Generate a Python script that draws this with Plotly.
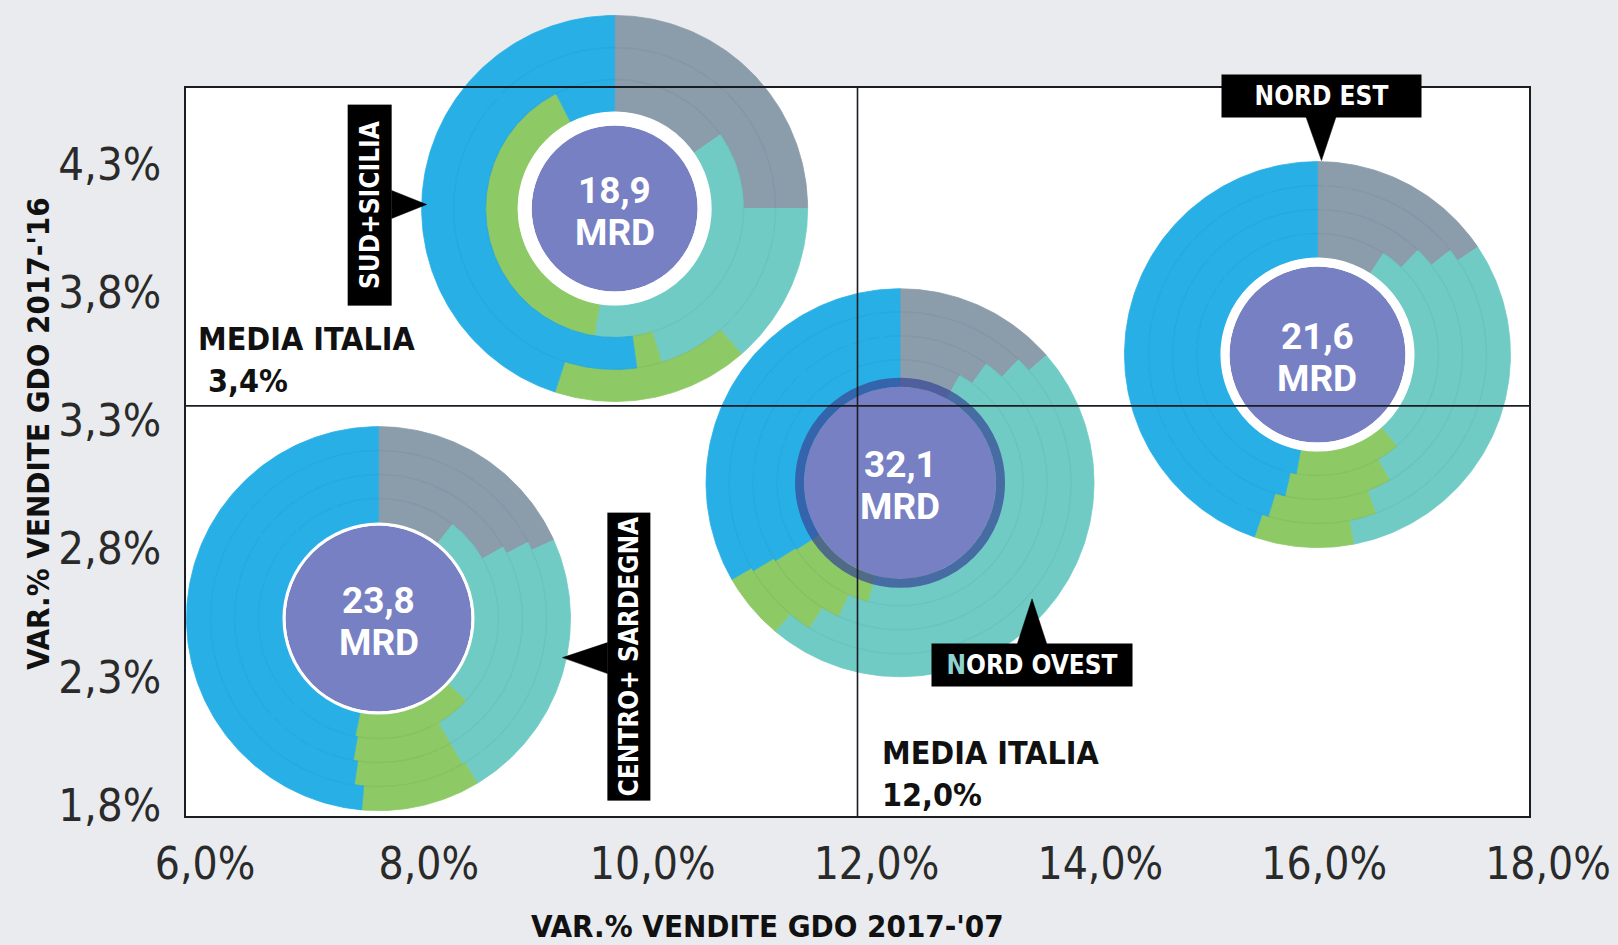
import numpy as np
import plotly.graph_objects as go

# ---------------------------------------------------------------- data
X_TICKS = [6, 8, 10, 12, 14, 16, 18]
Y_TICKS = [1.8, 2.3, 2.8, 3.3, 3.8, 4.3]
X_MIN, X_MAX = 6.0, 18.0
Y_MIN, Y_MAX = 1.8, 4.64

MEDIA_X = 12.0   # media Italia, var.% 2017-'07
MEDIA_Y = 3.4    # media Italia, var.% 2017-'16

REGIONS = ["SUD+SICILIA", "NORD OVEST", "NORD EST", "CENTRO+ SARDEGNA"]
VAR_07 = [9.83, 12.38, 16.11, 7.72]     # var.% vendite GDO 2017-'07
VAR_16 = [4.17, 3.10, 3.60, 2.57]       # var.% vendite GDO 2017-'16
SALES_MRD = [18.9, 32.1, 21.6, 23.8]    # vendite, miliardi di euro

# share (%) of each segment per ring, inner ring first
# order: grigio, verde acqua, verde, azzurro (clockwise from 12 o'clock)
SUD_SICILIA_RINGS = [[15.3, 37.2, 40.0, 7.5],
                     [25.0, 20.3, 2.5, 52.2],
                     [25.0, 13.6, 16.4, 45.0]]
NORD_OVEST_RINGS = [[8.1, 46.1, 11.7, 34.1],
                    [10.0, 46.9, 9.2, 33.9],
                    [12.2, 46.7, 7.5, 33.6],
                    [13.6, 47.5, 5.6, 33.3]]
NORD_EST_RINGS = [[9.2, 29.4, 14.2, 47.2],
                  [12.2, 29.5, 11.9, 46.4],
                  [14.4, 30.0, 10.3, 45.3],
                  [15.6, 31.4, 8.3, 44.7]]
CENTRO_SARDEGNA_RINGS = [[10.6, 26.4, 16.1, 46.9],
                         [16.7, 25.0, 11.1, 47.2],
                         [17.5, 24.2, 10.6, 47.7],
                         [18.3, 23.1, 10.0, 48.6]]
RINGS = [SUD_SICILIA_RINGS, NORD_OVEST_RINGS, NORD_EST_RINGS, CENTRO_SARDEGNA_RINGS]

# ---------------------------------------------------------------- styling
W, H = 1618, 945
FL, FR, FT, FB = 186, 1529, 88, 816          # frame edges in pixels
BG = "#e9ebee"
SEG_COLORS = ["#8b9cab", "#70cbc5", "#8dc964", "#28b0e6"]
PURPLE = "#7880c4"
NARROW = "DejaVu Sans Condensed, Liberation Sans, sans-serif"

# ring radii (px), centre disc radius and its border for each donut
RING_EDGES = [[97, 129, 161, 193],
              [96, 123, 147, 171, 194],
              [97, 121, 145, 169, 193],
              [95, 120, 144, 168, 192]]
DISC_R = [83, 96, 88, 93]
DISC_BORDER = [(14, "white"), (9, "rgba(55,70,150,0.72)"), (9, "white"), (3, "white")]

# callouts: box centre offset, box size (along text, across), text angle,
# pointer tip and pointer base points, all in px relative to the donut centre
CALLOUTS = [
    dict(box=(-245, -3), size=(200, 43), angle=-90, tip=(-188, -4), base=((-223, -18), (-223, 10))),
    dict(box=(132, 182), size=(200, 42), angle=0, tip=(132, 116), base=((117, 162), (147, 162))),
    dict(box=(4, -259), size=(199, 42), angle=0, tip=(4, -194), base=((-12, -239), (19, -239))),
    dict(box=(250, 38), size=(287, 42), angle=-90, tip=(184, 39), base=((229, 24), (229, 55))),
]

# pixel scale of the frame axes
kx = (FR - FL) / (X_MAX - X_MIN)
ky = (FB - FT) / (Y_MAX - Y_MIN)
# full-figure axes sharing the same scale, so donuts may overflow the frame
XR = [X_MIN - FL / kx, X_MIN + (W - FL) / kx]
YR = [Y_MIN - (H - FB) / ky, Y_MIN + FB / ky]


def px_to_data(cx, cy, dx, dy):
    return cx + dx / kx, cy - dy / ky


def sector(cx, cy, r0, r1, a0, a1):
    th = np.radians(np.linspace(a0, a1, max(3, int(abs(a1 - a0)) + 2)))
    xo = cx + r1 * np.sin(th) / kx
    yo = cy + r1 * np.cos(th) / ky
    xi = cx + r0 * np.sin(th[::-1]) / kx
    yi = cy + r0 * np.cos(th[::-1]) / ky
    xs = list(xo) + list(xi) + [xo[0]]
    ys = list(yo) + list(yi) + [yo[0]]
    return xs, ys


def fmt(v):
    return f"{v:.1f}".replace(".", ",")


fig = go.Figure()

for i, name in enumerate(REGIONS):
    cx, cy = VAR_07[i], VAR_16[i]
    edges = RING_EDGES[i]
    for s, color in enumerate(SEG_COLORS):
        xs, ys = [], []
        for k, shares in enumerate(RINGS[i]):
            total = sum(shares)
            a0 = 360 * sum(shares[:s]) / total
            a1 = 360 * sum(shares[:s + 1]) / total
            sx, sy = sector(cx, cy, edges[k], edges[k + 1], a0, a1)
            xs += sx + [None]
            ys += sy + [None]
        fig.add_trace(go.Scatter(x=xs, y=ys, mode="lines", fill="toself",
                                 fillcolor=color, line=dict(color=color, width=0.8),
                                 hoverinfo="skip", showlegend=False))
    # faint ring separators
    inner_edges = edges[1:-1]
    if inner_edges:
        fig.add_trace(go.Scatter(
            x=[cx] * len(inner_edges), y=[cy] * len(inner_edges), mode="markers",
            marker=dict(symbol="circle-open", size=[2 * r for r in inner_edges],
                        color="rgba(20,40,80,0.07)", line=dict(width=1.5)),
            hoverinfo="skip", showlegend=False, cliponaxis=False))
    # centre disc with its border ring
    bw, bc = DISC_BORDER[i]
    fig.add_trace(go.Scatter(
        x=[cx], y=[cy], mode="markers",
        marker=dict(size=2 * DISC_R[i], color=PURPLE, line=dict(width=0)),
        hoverinfo="skip", showlegend=False, cliponaxis=False))
    fig.add_trace(go.Scatter(
        x=[cx], y=[cy], mode="markers",
        marker=dict(symbol="circle-open", size=2 * DISC_R[i] + bw, color=bc,
                    line=dict(width=bw)),
        hoverinfo="skip", showlegend=False, cliponaxis=False))
    # callout pointer
    c = CALLOUTS[i]
    pts = [c["tip"], c["base"][0], c["base"][1], c["tip"]]
    tx, ty = zip(*[px_to_data(cx, cy, dx, dy) for dx, dy in pts])
    fig.add_trace(go.Scatter(x=list(tx), y=list(ty), mode="lines", fill="toself",
                             fillcolor="black", line=dict(color="black", width=0.5),
                             hoverinfo="skip", showlegend=False))

    # centre labels
    for txt, shift in ((fmt(SALES_MRD[i]), 18), ("MRD", -24)):
        fig.add_annotation(x=cx, y=cy, xref="x", yref="y", text=txt, showarrow=False,
                           yshift=shift, xanchor="center", yanchor="middle",
                           font=dict(family="Roboto, sans-serif", size=37,
                                     color="white", weight="bold"))
    # callout box
    label = name
    if name == "NORD OVEST":
        label = "<span style='color:#8ed4ce'>N</span>ORD OVEST"
    bx, by = c["box"]
    fig.add_annotation(x=cx, y=cy, xref="x", yref="y", text=label, showarrow=False,
                       xshift=bx, yshift=-by, xanchor="center", yanchor="middle",
                       textangle=c["angle"], width=c["size"][0], height=c["size"][1],
                       bgcolor="black", borderpad=0, align="center", valign="middle",
                       font=dict(family=NARROW, size=26, color="white", weight="bold"))

# media lines on the frame axes
fig.add_trace(go.Scatter(x=[MEDIA_X, MEDIA_X], y=[Y_MIN, Y_MAX], xaxis="x2", yaxis="y2",
                         mode="lines", line=dict(color="#1c1c24", width=1.6),
                         hoverinfo="skip", showlegend=False))
fig.add_trace(go.Scatter(x=[X_MIN, X_MAX], y=[MEDIA_Y, MEDIA_Y], xaxis="x2", yaxis="y2",
                         mode="lines", line=dict(color="#1c1c24", width=1.6),
                         hoverinfo="skip", showlegend=False))

media_font = dict(family=NARROW, size=32, color="#111111", weight="bold")
fig.add_annotation(x=X_MIN, y=MEDIA_Y, xref="x2", yref="y2", showarrow=False,
                   text=f"MEDIA ITALIA<br> {fmt(MEDIA_Y)}%", align="left",
                   xanchor="left", yanchor="bottom", xshift=10, yshift=4, font=media_font)
fig.add_annotation(x=MEDIA_X, y=Y_MIN, xref="x2", yref="y2", showarrow=False,
                   text=f"MEDIA ITALIA<br>{fmt(MEDIA_X)}%", align="left",
                   xanchor="left", yanchor="bottom", xshift=22, yshift=0, font=media_font)

title_font = dict(family=NARROW, size=31, color="#111111", weight="bold")
fig.add_annotation(x=767 / W, y=1 - 926 / H, xref="paper", yref="paper", showarrow=False,
                   text="VAR.% VENDITE GDO 2017-'07", xanchor="center", yanchor="middle",
                   font=title_font)
fig.add_annotation(x=38 / W, y=1 - 434 / H, xref="paper", yref="paper", showarrow=False,
                   text="VAR.% VENDITE GDO 2017-'16", textangle=-90,
                   xanchor="center", yanchor="middle", font=title_font)

# white frame background
fig.add_shape(type="rect", xref="paper", yref="paper", layer="below",
              x0=FL / W, x1=FR / W, y0=1 - FB / H, y1=1 - FT / H,
              fillcolor="white", line=dict(width=0))

fig.update_layout(
    width=W, height=H, autosize=False,
    margin=dict(l=0, r=0, t=0, b=0, pad=0, autoexpand=False),
    paper_bgcolor=BG, plot_bgcolor="rgba(0,0,0,0)",
    separators=",.", hovermode=False, showlegend=False,
    xaxis=dict(domain=[0, 1], range=XR, visible=False, fixedrange=True),
    yaxis=dict(domain=[0, 1], range=YR, visible=False, fixedrange=True),
    xaxis2=dict(domain=[FL / W, FR / W], range=[X_MIN, X_MAX], anchor="y2",
                showline=True, mirror=True, linecolor="#1c1c24", linewidth=1.6,
                showgrid=False, zeroline=False, ticks="",
                tickvals=X_TICKS, ticktext=[fmt(v) + "%" for v in X_TICKS],
                ticklabelshift=19, ticklabelstandoff=8, ticklabeloverflow="allow",
                tickfont=dict(family=NARROW, size=44, color="#2a2a2a")),
    yaxis2=dict(domain=[1 - FB / H, 1 - FT / H], range=[Y_MIN, Y_MAX], anchor="x2",
                showline=True, mirror=True, linecolor="#1c1c24", linewidth=1.6,
                showgrid=False, zeroline=False, ticks="",
                tickvals=Y_TICKS, ticktext=[fmt(v) + "%" for v in Y_TICKS],
                ticklabelshift=-11, ticklabelstandoff=14, ticklabeloverflow="allow",
                tickfont=dict(family=NARROW, size=45, color="#2a2a2a")),
)

fig.write_html("out.html")
